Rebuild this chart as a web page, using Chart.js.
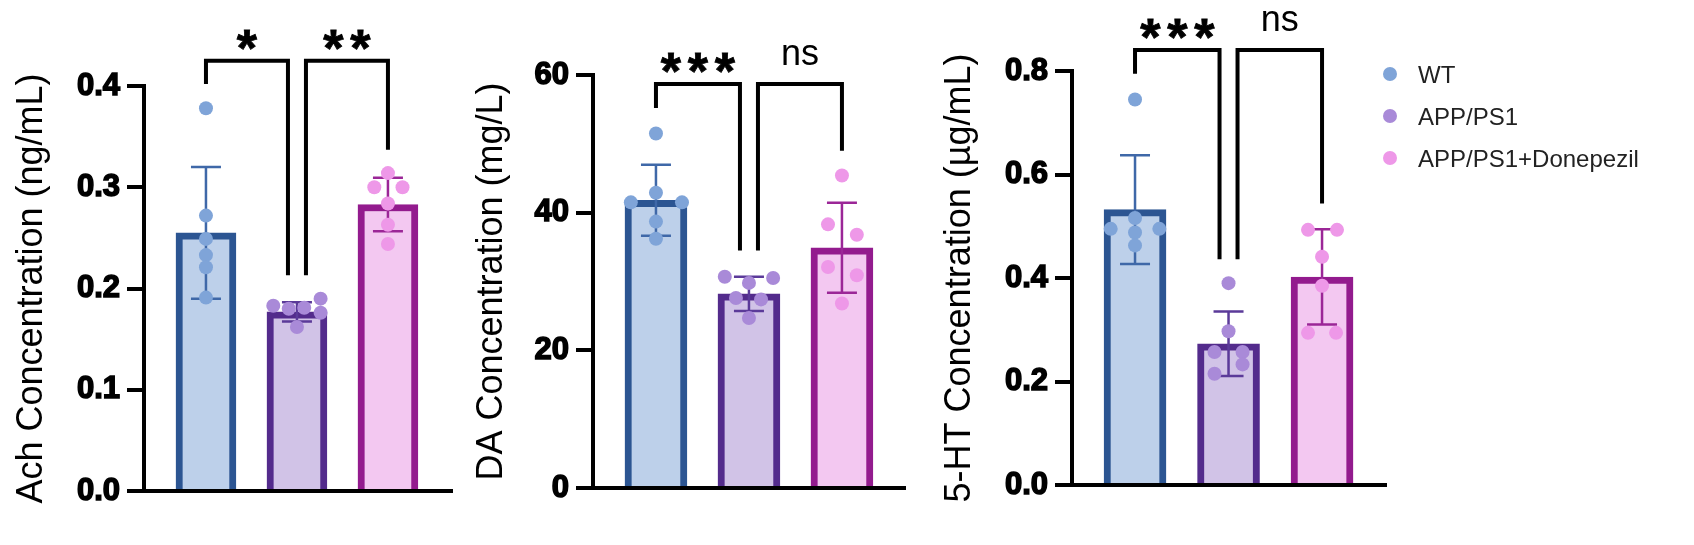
<!DOCTYPE html>
<html>
<head>
<meta charset="utf-8">
<script src="https://cdn.jsdelivr.net/npm/chart.js@4.4.1/dist/chart.umd.min.js"></script>
<style>
  body { margin: 0; background: #fff; width: 1694px; height: 545px; overflow: hidden; position: relative; }
  .panel { position: absolute; top: 0; height: 545px; }
  #legend { position: absolute; left: 1383px; top: 58px; font-family: "Liberation Sans", Arial, sans-serif; font-size: 24px; color: #222; }
  #legend div { height: 42px; line-height: 34px; white-space: nowrap; }
  #legend span.dot { display: inline-block; width: 14px; height: 14px; border-radius: 50%; margin-right: 21px; vertical-align: 2px; }
</style>
</head>
<body>
<div class="panel" id="p1" style="left:0px;width:460px"><canvas id="c1"></canvas></div>
<div class="panel" id="p2" style="left:449px;width:464px"><canvas id="c2"></canvas></div>
<div class="panel" id="p3" style="left:928px;width:466px"><canvas id="c3"></canvas></div>
<div id="legend"></div>
<script>
const groups = ['WT', 'APP/PS1', 'APP/PS1+Donepezil'];
const barFill = ['#bdd0ea', '#d1c3e7', '#f3c8f1'];
const barEdge = ['#2c5592', '#532b8c', '#931b8e'];
const dotColor = ['#7fa4d8', '#a98ad8', '#ee98e8'];
const errColor = ['#3f68a8', '#5b3a99', '#9b2697'];

// Ach (ng/mL)
const achMean = [0.255, 0.177, 0.283];
const achSD = [0.065, 0.0095, 0.0265];
const achPoints = [
    [0.378, 0.272, 0.249, 0.233, 0.221, 0.191],
    [0.183, 0.180, 0.181, 0.190, 0.176, 0.162],
    [0.314, 0.300, 0.300, 0.284, 0.263, 0.244]
];
const achJitter = [
    [0, 0, 0, 0, 0, 0],
    [-0.26, -0.09, 0.08, 0.26, 0.26, 0],
    [0, -0.15, 0.16, 0, 0, 0]
];
const achTicks = [0, 0.1, 0.2, 0.3, 0.4];
const achSig = [
    { from: 0, to: 1, top: 0.425, legs: [0.402, 0.213], label: '*' },
    { from: 1, to: 2, top: 0.425, legs: [0.213, 0.337], label: '**' }
];

// DA (mg/L)
const daMean = [41.8, 28.2, 34.9];
const daSD = [5.15, 2.5, 6.55];
const daPoints = [
    [51.5, 42.9, 41.5, 41.5, 38.7, 36.2],
    [30.7, 30.5, 29.8, 27.6, 27.4, 24.7],
    [45.4, 38.3, 36.8, 32.1, 30.9, 26.8]
];
const daJitter = [
    [0, 0, -0.27, 0.28, 0, 0],
    [-0.26, 0.26, 0, -0.14, 0.13, 0],
    [0, -0.15, 0.16, -0.15, 0.16, 0]
];
const daTicks = [0, 20, 40, 60];
const daSig = [
    { from: 0, to: 1, top: 58.7, legs: [55.2, 34.5], label: '***' },
    { from: 1, to: 2, top: 58.7, legs: [34.5, 49.0], label: 'ns' }
];

// 5-HT (µg/mL)
const htMean = [0.532, 0.273, 0.402];
const htSD = [0.105, 0.0625, 0.092];
const htPoints = [
    [0.745, 0.516, 0.495, 0.495, 0.488, 0.463],
    [0.390, 0.297, 0.257, 0.257, 0.233, 0.215],
    [0.493, 0.493, 0.441, 0.385, 0.294, 0.294]
];
const htJitter = [
    [0, 0, -0.26, 0.26, 0, 0],
    [0, 0, -0.15, 0.15, 0.15, -0.15],
    [-0.15, 0.16, 0, 0, -0.15, 0.15]
];
const htTicks = [0, 0.2, 0.4, 0.6, 0.8];
const htSig = [
    { from: 0, to: 1, top: 0.8406, legs: [0.7946, 0.436], label: '***' },
    { from: 1, to: 2, top: 0.8406, legs: [0.436, 0.544], label: 'ns' }
];

const FONT = '"Liberation Sans", Arial, sans-serif';
Chart.defaults.font.family = FONT;

function errorBarPlugin(means, sds) {
    return {
        id: 'errorBars',
        afterDatasetDraw(chart, args) {
            if (args.index !== 0) return;
            const ctx = chart.ctx, x = chart.scales.x, y = chart.scales.y;
            ctx.save();
            ctx.lineWidth = 2.5;
            means.forEach((m, i) => {
                const px = x.getPixelForValue(i + 1);
                const top = y.getPixelForValue(m + sds[i]);
                const bot = y.getPixelForValue(m - sds[i]);
                ctx.strokeStyle = errColor[i];
                ctx.beginPath();
                ctx.moveTo(px, top); ctx.lineTo(px, bot);
                ctx.moveTo(px - 15, top); ctx.lineTo(px + 15, top);
                ctx.moveTo(px - 15, bot); ctx.lineTo(px + 15, bot);
                ctx.stroke();
            });
            ctx.restore();
        }
    };
}

function bracketPlugin(sig) {
    return {
        id: 'sigBrackets',
        afterDraw(chart) {
            const ctx = chart.ctx, x = chart.scales.x, y = chart.scales.y;
            ctx.save();
            ctx.strokeStyle = '#000';
            ctx.fillStyle = '#000';
            ctx.lineWidth = 4;
            ctx.lineJoin = 'miter';
            sig.forEach(s => {
                // legs next to the shared middle bar sit a little apart
                const x1 = x.getPixelForValue(s.from + 1) + (s.from === 1 ? 9 : 0);
                const x2 = x.getPixelForValue(s.to + 1) - (s.to === 1 ? 9 : 0);
                const yt = y.getPixelForValue(s.top);
                ctx.beginPath();
                ctx.moveTo(x1, y.getPixelForValue(s.legs[0]));
                ctx.lineTo(x1, yt);
                ctx.lineTo(x2, yt);
                ctx.lineTo(x2, y.getPixelForValue(s.legs[1]));
                ctx.stroke();
                const cx = (x1 + x2) / 2;
                ctx.textAlign = 'center';
                ctx.textBaseline = 'alphabetic';
                if (s.label === 'ns') {
                    ctx.font = '36px ' + FONT;
                    ctx.fillText('ns', cx, yt - 19);
                } else {
                    ctx.font = 'bold 52px ' + FONT;
                    ctx.lineWidth = 0.8;
                    const n = s.label.length;
                    for (let k = 0; k < n; k++) {
                        const sx = cx + (k - (n - 1) / 2) * 27;
                        ctx.fillText('*', sx, yt + 5);
                        ctx.strokeText('*', sx, yt + 5);
                    }
                    ctx.lineWidth = 4;
                }
            });
            ctx.restore();
        }
    };
}

function makePanel(canvasId, cfg) {
    const scatter = [];
    const scatterColors = [];
    cfg.points.forEach((vals, i) => {
        vals.forEach((v, j) => {
            scatter.push({ x: i + 1 + cfg.jitter[i][j], y: v });
            scatterColors.push(dotColor[i]);
        });
    });
    const ctx = document.getElementById(canvasId).getContext('2d');
    new Chart(ctx, {
        type: 'bar',
        data: {
            datasets: [{
                type: 'bar',
                data: cfg.means.map((m, i) => ({ x: i + 1, y: m })),
                backgroundColor: barFill,
                borderColor: barEdge,
                borderWidth: 7,
                barThickness: cfg.barWidth,
                order: 2
            }, {
                type: 'scatter',
                data: scatter,
                backgroundColor: scatterColors,
                pointRadius: 7,
                pointBorderWidth: 0,
                order: 1
            }]
        },
        options: {
            responsive: true,
            maintainAspectRatio: false,
            animation: false,
            events: [],
            layout: { padding: { top: cfg.padTop, bottom: cfg.padBottom, left: 0, right: 8 } },
            plugins: { legend: { display: false }, tooltip: { enabled: false } },
            scales: {
                x: {
                    type: 'linear',
                    min: cfg.xMin,
                    max: cfg.xMax,
                    offset: false,
                    grid: { display: false },
                    ticks: { display: false },
                    border: { display: true, color: '#000', width: 4 },
                    afterFit: s => { s.height = 0; }
                },
                y: {
                    min: 0,
                    max: cfg.ticks[cfg.ticks.length - 1],
                    afterBuildTicks: s => { s.ticks = cfg.ticks.map(v => ({ value: v })); },
                    grid: { drawOnChartArea: false, drawTicks: true, tickLength: 17, color: '#000', lineWidth: 4 },
                    border: { display: true, color: '#000', width: 4 },
                    ticks: {
                        color: '#000',
                        padding: 7,
                        font: { size: 31, weight: 'bold' },
                        textStrokeColor: '#000',
                        textStrokeWidth: 1.5,
                        callback: v => cfg.decimals ? v.toFixed(cfg.decimals) : String(v)
                    },
                    title: {
                        display: true,
                        text: cfg.title,
                        color: '#000',
                        font: { size: 36, weight: 'normal' },
                        padding: { top: cfg.titlePad, bottom: 0 }
                    },
                    afterFit: s => { s.width = 144; }
                }
            }
        },
        plugins: [errorBarPlugin(cfg.means, cfg.sd), bracketPlugin(cfg.sig)]
    });
}

makePanel('c1', {
    means: achMean, sd: achSD, points: achPoints, jitter: achJitter, ticks: achTicks, sig: achSig,
    title: 'Ach Concentration (ng/mL)', decimals: 1,
    padTop: 86, padBottom: 54, xMin: 0.319, xMax: 3.704, barWidth: 60, titlePad: 10
});
makePanel('c2', {
    means: daMean, sd: daSD, points: daPoints, jitter: daJitter, ticks: daTicks, sig: daSig,
    title: 'DA Concentration (mg/L)', decimals: 0,
    padTop: 75, padBottom: 57, xMin: 0.323, xMax: 3.678, barWidth: 62, titlePad: 21
});
makePanel('c3', {
    means: htMean, sd: htSD, points: htPoints, jitter: htJitter, ticks: htTicks, sig: htSig,
    title: '5-HT Concentration (µg/mL)', decimals: 1,
    padTop: 71, padBottom: 60, xMin: 0.326, xMax: 3.684, barWidth: 62, titlePad: 10
});

document.getElementById('legend').innerHTML = groups.map((g, i) =>
    `<div><span class="dot" style="background:${dotColor[i]}"></span>${g}</div>`
).join('');
</script>
</body>
</html>
